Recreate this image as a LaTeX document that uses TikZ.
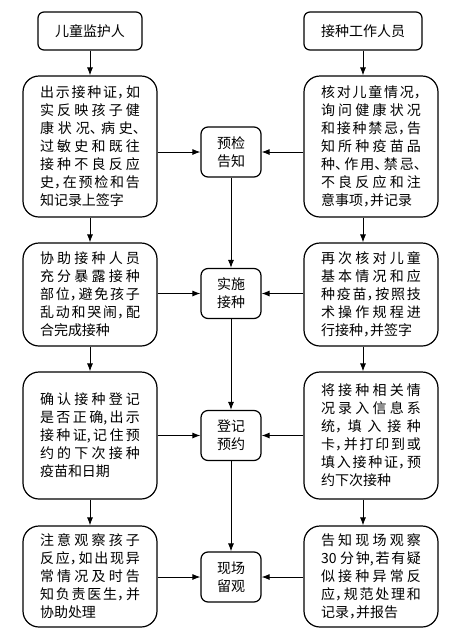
\documentclass[tikz,border=0pt]{standalone}
\usepackage{fontspec}
\newfontfamily\cjk{Noto Sans CJK SC}[RawFeature={+halt}]
\usetikzlibrary{arrows.meta}
\XeTeXlinebreaklocale "zh"
\XeTeXlinebreakskip=0pt plus 6pt
\tolerance=9999
\hbadness=10000
\tikzset{
  txtbox/.style={draw, line width=1.2pt, rounded corners=16pt, minimum width=134pt,
    text width=100pt, inner xsep=17pt, inner ysep=2pt, align=justify,
    font=\cjk\fontsize{14}{18}\selectfont},
  headbox/.style={draw, line width=1.2pt, rounded corners=6pt, minimum height=38pt,
    inner xsep=17pt, font=\cjk\fontsize{14}{18}\selectfont},
  stepnode/.style={draw, line width=1.2pt, rounded corners=7pt, minimum width=60pt,
    minimum height=50pt, align=center, font=\cjk\fontsize{14}{18}\selectfont},
  arr/.style={line width=0.9pt, -{Latex[length=8pt,width=6pt]}}
}
\begin{document}
\begin{tikzpicture}[x=1pt,y=-1pt]
\useasboundingbox (0,0) rectangle (461,638);
% the two heads
\node[headbox] (guard) at (90,31) {儿童监护人};
\node[headbox] (staff) at (363,31) {接种工作人员};
% guardian column
\node[txtbox, minimum height=141pt] (g1) at (90,146.5) {出示接种证，如\linebreak 实反映孩子健\linebreak 康状况、病史、\linebreak 过敏史和既往\linebreak 接种不良反应\linebreak 史，在预检和告\linebreak 知记录上签字};
\node[txtbox, minimum height=103pt] (g2) at (90,294.5) {协助接种人员\linebreak 充分暴露接种\linebreak 部位，避免孩子\linebreak 乱动和哭闹，配\linebreak 合完成接种};
\node[txtbox, minimum height=127pt] (g3) at (90,435.5) {确认接种登记\linebreak 是否正确,出示\linebreak 接种证,记住预\linebreak 约的下次接种\linebreak 疫苗和日期};
\node[txtbox, minimum height=101pt] (g4) at (90,576.5) {注意观察孩子\linebreak 反应，如出现异\linebreak 常情况及时告\linebreak 知负责医生，并\linebreak 协助处理};
% staff column
\node[txtbox, minimum height=141pt] (s1) at (371,146.5) {核对儿童情况，\linebreak 询问健康状况\linebreak 和接种禁忌，告\linebreak 知所种疫苗品\linebreak 种、作用、禁忌、\linebreak 不良反应和注\linebreak 意事项，并记录};
\node[txtbox, minimum height=103pt] (s2) at (371,294.5) {再次核对儿童\linebreak 基本情况和应\linebreak 种疫苗，按照技\linebreak 术操作规程进\linebreak 行接种，并签字};
\node[txtbox, minimum height=127pt] (s3) at (371,435.5) {将接种相关情\linebreak 况录入信息系\linebreak 统，填入接种\linebreak 卡，并打印到或\linebreak 填入接种证，预\linebreak 约下次接种};
\node[txtbox, minimum height=101pt] (s4) at (371,576.5) {告知现场观察\linebreak 30 分钟,若有疑\linebreak 似接种异常反\linebreak 应，规范处理和\linebreak 记录，并报告};
% steps in the middle
\node[stepnode] (check) at (231,152) {预检\\告知};
\node[stepnode] (inject) at (231,293.5) {实施\\接种};
\node[stepnode] (book) at (231,435.5) {登记\\预约};
\node[stepnode] (watch) at (231,577) {现场\\留观};
\coordinate (sline) at (363,0);
% down the columns
\draw[arr] (guard) -- (g1);
\draw[arr] (g1) -- (g2);
\draw[arr] (g2) -- (g3);
\draw[arr] (g3) -- (g4);
\draw[arr] (staff) -- (sline |- s1.north);
\draw[arr] (sline |- s1.south) -- (sline |- s2.north);
\draw[arr] (sline |- s2.south) -- (sline |- s3.north);
\draw[arr] (sline |- s3.south) -- (sline |- s4.north);
\draw[arr] (check) -- (inject);
\draw[arr] (inject) -- (book);
\draw[arr] (book) -- (watch);
% into the steps from both sides
\draw[arr] (g1.east |- check) -- (check);
\draw[arr] (g2.east |- inject) -- (inject);
\draw[arr] (g3.east |- book) -- (book);
\draw[arr] (g4.east |- watch) -- (watch);
\draw[arr] (s1.west |- check) -- (check);
\draw[arr] (s2.west |- inject) -- (inject);
\draw[arr] (s3.west |- book) -- (book);
\draw[arr] (s4.west |- watch) -- (watch);
\end{tikzpicture}
\end{document}
